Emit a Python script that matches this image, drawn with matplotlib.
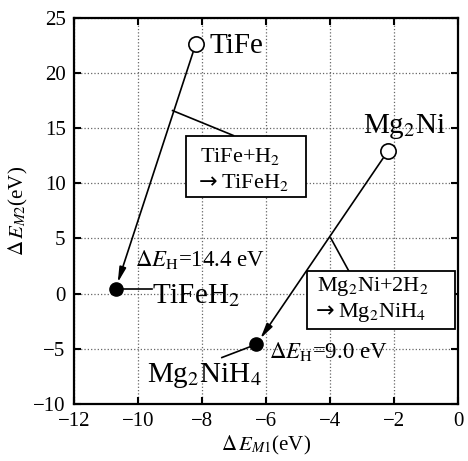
import matplotlib
matplotlib.use("Agg")
import matplotlib.pyplot as plt
from matplotlib.patches import Rectangle

plt.rcParams['font.family'] = ['Liberation Serif', 'DejaVu Serif']
plt.rcParams['mathtext.fontset'] = 'stix'

# alloy (open) -> hydride (filled), coordinates (dEM1, dEM2) in eV
alloy_names = ['TiFe', 'Mg$_2$Ni']
alloy_x = [-8.2, -2.2]
alloy_y = [22.6, 12.9]
hydride_names = ['TiFeH$_2$', 'Mg$_2$NiH$_4$']
hydride_x = [-10.7, -6.3]
hydride_y = [0.4, -4.6]
dE_H = [14.4, 9.0]
reactants = ['TiFe+H$_2$', 'Mg$_2$Ni+2H$_2$']

xticks = [-12, -10, -8, -6, -4, -2, 0]
yticks = [-10, -5, 0, 5, 10, 15, 20, 25]

fig = plt.figure(figsize=(4.68, 4.61), dpi=100)
ax = fig.add_axes([0.158, 0.124, 0.821, 0.837])
ax.set_xlim(-12, 0)
ax.set_ylim(-10, 25)
ax.set_xticks(xticks)
ax.set_yticks(yticks)
ax.grid(True, linestyle=':', color='#666666', lw=0.9)
ax.set_axisbelow(True)
ax.tick_params(direction='in', top=True, right=True, length=5, width=1.5,
               labelsize=15, pad=6)
for s in ax.spines.values():
    s.set_linewidth(1.6)

# arrows from alloy to hydride
for i in range(2):
    ax.annotate('', xy=(hydride_x[i], hydride_y[i]),
                xytext=(alloy_x[i], alloy_y[i]),
                arrowprops=dict(arrowstyle='-|>,head_length=0.9,head_width=0.2',
                                color='k', lw=1.2, shrinkA=6, shrinkB=5))

ax.plot(alloy_x, alloy_y, 'o', ms=11, mfc='white', mec='k', mew=1.2, zorder=5)
ax.plot(hydride_x, hydride_y, 'o', ms=9.5, color='k', zorder=5)

# compound labels
ax.text(-7.78, 21.83, alloy_names[0], fontsize=21, va='baseline')
ax.text(-2.97, 14.58, alloy_names[1], fontsize=21, va='baseline')
ax.plot([hydride_x[0], -9.57], [hydride_y[0], hydride_y[0]], 'k-', lw=1.2)
ax.text(-9.56, -0.82, hydride_names[0], fontsize=21, va='baseline')
ax.plot([hydride_x[1], -7.38], [hydride_y[1], -5.8], 'k-', lw=1.2)
ax.text(-9.72, -8.06, hydride_names[1], fontsize=21, va='baseline')

# reaction energies
ax.text(-10.09, 2.47, '$\\Delta E_{\\mathrm{H}}$=%.1f eV' % dE_H[0],
        fontsize=16.5, va='baseline')
ax.text(-5.91, -5.8, '$\\Delta E_{\\mathrm{H}}$=%.1f eV' % dE_H[1],
        fontsize=16.5, va='baseline')

# reaction callout boxes
ax.plot([-8.92, -7.02], [16.6, 14.34], 'k-', lw=1.2)
ax.add_patch(Rectangle((-8.51, 8.76), 3.75, 5.58, fc='white', ec='k',
                       lw=1.3, zorder=4))
ax.text(-8.06, 11.98, reactants[0], fontsize=16, va='baseline', zorder=6)
ax.text(-8.1, 9.6, '\u2192', fontsize=16, va='baseline', zorder=6,
        family=['DejaVu Sans'])
ax.text(-7.42, 9.6, hydride_names[0], fontsize=16, va='baseline', zorder=6)

ax.plot([-3.98, -3.41], [5.04, 2.02], 'k-', lw=1.2)
ax.add_patch(Rectangle((-4.71, -3.17), 4.6, 5.19, fc='white', ec='k',
                       lw=1.3, zorder=4))
ax.text(-4.42, 0.21, reactants[1], fontsize=16, va='baseline', zorder=6)
ax.text(-4.46, -2.11, '\u2192', fontsize=16, va='baseline', zorder=6,
        family=['DejaVu Sans'])
ax.text(-3.76, -2.11, hydride_names[1], fontsize=16, va='baseline', zorder=6)

ax.set_xlabel('$\\Delta\\,E_{M1}$(eV)', fontsize=15, labelpad=2)
ax.set_ylabel('$\\Delta\\,E_{M2}$(eV)', fontsize=15, labelpad=2)

fig.savefig('out.png', dpi=100)
